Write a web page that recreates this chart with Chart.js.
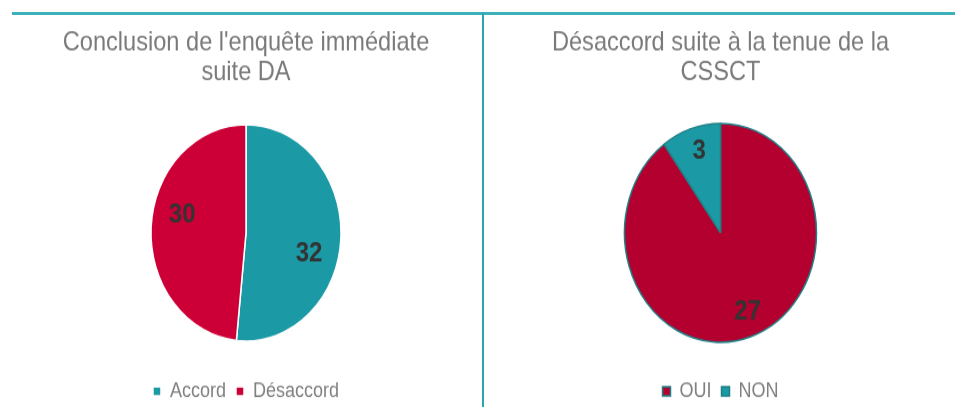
<!DOCTYPE html>
<html><head><meta charset="utf-8">
<script src="https://cdn.jsdelivr.net/npm/chart.js@4.4.1/dist/chart.umd.min.js"></script>
<style>
html,body{margin:0;padding:0;background:#fff;width:955px;height:407px;overflow:hidden;position:relative;}
.hline{position:absolute;left:12px;top:12px;width:943px;height:3px;background:#3db1b9;}
.vline{position:absolute;left:482px;top:13px;width:2px;height:394px;background:#2aa5ae;}
.wrap{position:absolute;top:14px;transform:scaleY(1.14);transform-origin:0 0;}
</style></head>
<body>
<div class="hline"></div>
<div class="vline"></div>
<div class="wrap" style="left:10px;width:472px;height:350px;"><canvas id="c1" width="472" height="350"></canvas></div>
<div class="wrap" style="left:486px;width:469px;height:350px;"><canvas id="c2" width="469" height="350"></canvas></div>
<script>
const title1 = ["Conclusion de l'enquête immédiate", "suite DA"];
const categories1 = ["Accord", "Désaccord"];
const values1 = [32, 30];
const title2 = ["Désaccord suite à la tenue de la", "CSSCT"];
const categories2 = ["OUI", "NON"];
const values2 = [27, 3];

const FONT = "'Liberation Sans', Arial, sans-serif";

const sliceLabels = {
  id: 'sliceLabels',
  afterDatasetsDraw(chart, args, opts) {
    const ctx = chart.ctx;
    const meta = chart.getDatasetMeta(0);
    const data = chart.data.datasets[0].data;
    ctx.save();
    ctx.font = "bold 24px " + FONT;
    ctx.fillStyle = '#333333';
    ctx.textAlign = 'center';
    ctx.textBaseline = 'middle';
    meta.data.forEach((arc, i) => {
      const p = arc.getProps(['x','y','startAngle','endAngle','outerRadius'], true);
      const f = opts.fraction[i];
      const a = p.startAngle + (p.endAngle - p.startAngle) * f;
      const r = p.outerRadius * opts.radius[i];
      ctx.fillText(String(data[i]), p.x + Math.cos(a) * r, p.y + Math.sin(a) * r);
    });
    ctx.restore();
  }
};

function makeChart(id, title, cats, vals, colors, border, bw, radius, labelOpts) {
  return new Chart(document.getElementById(id), {
    type: 'pie',
    data: {
      labels: cats,
      datasets: [{
        data: vals,
        backgroundColor: colors,
        borderColor: border,
        borderWidth: bw,
        radius: radius
      }]
    },
    options: {
      responsive: false,
      animation: false,
      events: [],
      layout: { padding: 0 },
      plugins: {
        title: {
          display: true,
          text: title,
          color: '#7a7a7a',
          font: { family: FONT, size: 23.6, weight: 'normal', lineHeight: 1.12 },
          padding: { top: 12, bottom: 7 }
        },
        legend: {
          position: 'bottom',
          labels: {
            color: '#808080',
            font: { family: FONT, size: 18 },
            boxWidth: 8,
            boxHeight: 8,
            padding: 10
          }
        },
        tooltip: { enabled: false },
        sliceLabels: labelOpts
      }
    },
    plugins: [sliceLabels]
  });
}

makeChart('c1', title1, categories1, values1, ['#1b9aa5', '#cc0036'], '#ffffff', 1.5, 95,
  { fraction: [0.57, 0.56], radius: [0.69, 0.69] });
makeChart('c2', title2, categories2, values2, ['#b3002e', '#1b9aa5'], '#1f7f86', 1.5, 96,
  { fraction: [0.49, 0.54], radius: [0.78, 0.78] });
</script>
</body></html>
